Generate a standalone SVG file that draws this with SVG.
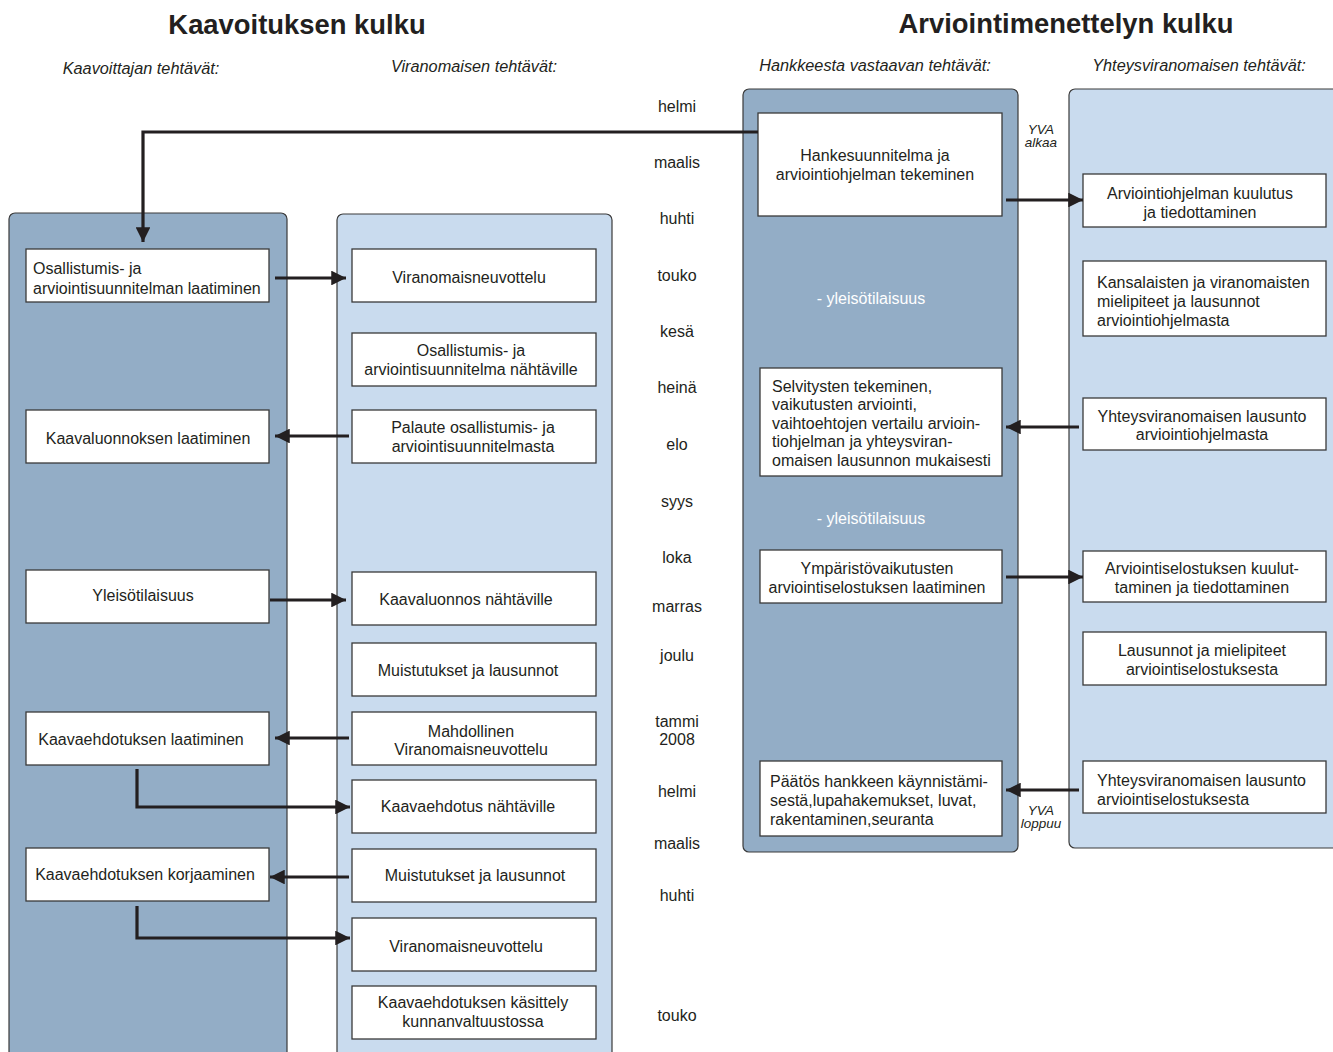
<svg xmlns="http://www.w3.org/2000/svg" width="1333" height="1052" viewBox="0 0 1333 1052">
<defs>
<marker id="ah" viewBox="0 0 10 10" refX="10" refY="5" markerWidth="5" markerHeight="4.6" markerUnits="strokeWidth" orient="auto">
<path d="M0,0 L10,5 L0,10 Z" fill="#231f20"/>
</marker>
<style>
text{font-family:"Liberation Sans",Arial,sans-serif;fill:#231f20}
.title{font-size:27.4px;font-weight:bold;text-anchor:middle}
.sub{font-size:16.3px;font-style:italic;text-anchor:middle}
.mon{font-size:16px;text-anchor:middle}
.t{font-size:16px}
.c{text-anchor:middle}
.w{fill:#ffffff;font-size:16px;text-anchor:middle}
.yva{font-size:13.5px;font-style:italic;text-anchor:middle}
.dark{fill:#93adc6;stroke:#3a3a3a;stroke-width:1.2}
.light{fill:#c9dbee;stroke:#3a3a3a;stroke-width:1.2}
.box{fill:#ffffff;stroke:#3a3a3a;stroke-width:1.3}
.con{fill:none;stroke:#231f20;stroke-width:3.2;marker-end:url(#ah)}
</style>
</defs>
<rect width="1333" height="1052" fill="#ffffff"/>

<g id="headers">
<text class="title" x="297" y="34">Kaavoituksen kulku</text>
<text class="title" x="1066" y="33">Arviointimenettelyn kulku</text>
<text class="sub" x="141" y="74">Kaavoittajan tehtävät:</text>
<text class="sub" x="474" y="72">Viranomaisen tehtävät:</text>
<text class="sub" x="875" y="71">Hankkeesta vastaavan tehtävät:</text>
<text class="sub" x="1199" y="71">Yhteysviranomaisen tehtävät:</text>
</g>

<g id="months">
<text class="mon" x="677" y="112">helmi</text>
<text class="mon" x="677" y="168">maalis</text>
<text class="mon" x="677" y="224">huhti</text>
<text class="mon" x="677" y="281">touko</text>
<text class="mon" x="677" y="337">kesä</text>
<text class="mon" x="677" y="393">heinä</text>
<text class="mon" x="677" y="450">elo</text>
<text class="mon" x="677" y="507">syys</text>
<text class="mon" x="677" y="563">loka</text>
<text class="mon" x="677" y="612">marras</text>
<text class="mon" x="677" y="661">joulu</text>
<text class="mon" x="677" y="727">tammi</text>
<text class="mon" x="677" y="745">2008</text>
<text class="mon" x="677" y="797">helmi</text>
<text class="mon" x="677" y="849">maalis</text>
<text class="mon" x="677" y="901">huhti</text>
<text class="mon" x="677" y="1021">touko</text>
</g>

<g id="lanes">
<rect id="lane-kaavoittaja" class="dark" x="9" y="213" width="278" height="860" rx="6"/>
<rect id="lane-viranomainen" class="light" x="337" y="214" width="275" height="860" rx="6"/>
<rect id="lane-hanke" class="dark" x="743" y="89" width="275" height="763" rx="6"/>
<rect id="lane-yhteys" class="light" x="1069" y="89" width="280" height="759" rx="6"/>
</g>

<g id="n-osallistumis"><rect class="box" x="26" y="249" width="243" height="53"/>
<text class="t" x="33" y="274">Osallistumis- ja</text><text class="t" x="33" y="294">arviointisuunnitelman laatiminen</text></g>
<g id="n-kaavaluonnoksen"><rect class="box" x="26" y="410" width="243" height="53"/>
<text class="t c" x="148" y="444">Kaavaluonnoksen laatiminen</text></g>
<g id="n-yleisotilaisuus"><rect class="box" x="26" y="570" width="243" height="53"/>
<text class="t c" x="143" y="601">Yleisötilaisuus</text></g>
<g id="n-kaavaehdotuksen-laatiminen"><rect class="box" x="26" y="712" width="243" height="53"/>
<text class="t c" x="141" y="745">Kaavaehdotuksen laatiminen</text></g>
<g id="n-korjaaminen"><rect class="box" x="26" y="848" width="243" height="53"/>
<text class="t c" x="145" y="880">Kaavaehdotuksen korjaaminen</text></g>

<g id="n-viranomaisneuvottelu1"><rect class="box" x="352" y="249" width="244" height="53"/>
<text class="t c" x="469" y="283">Viranomaisneuvottelu</text></g>
<g id="n-oas-nahtaville"><rect class="box" x="352" y="333" width="244" height="53"/>
<text class="t c" x="471" y="356">Osallistumis- ja</text><text class="t c" x="471" y="375">arviointisuunnitelma nähtäville</text></g>
<g id="n-palaute"><rect class="box" x="352" y="410" width="244" height="53"/>
<text class="t c" x="473" y="433">Palaute osallistumis- ja</text><text class="t c" x="473" y="452">arviointisuunnitelmasta</text></g>
<g id="n-luonnos-nahtaville"><rect class="box" x="352" y="572" width="244" height="53"/>
<text class="t c" x="466" y="605">Kaavaluonnos nähtäville</text></g>
<g id="n-muistutukset1"><rect class="box" x="352" y="643" width="244" height="53"/>
<text class="t c" x="468" y="676">Muistutukset ja lausunnot</text></g>
<g id="n-mahdollinen"><rect class="box" x="352" y="712" width="244" height="53"/>
<text class="t c" x="471" y="737">Mahdollinen</text><text class="t c" x="471" y="755">Viranomaisneuvottelu</text></g>
<g id="n-ehdotus-nahtaville"><rect class="box" x="352" y="780" width="244" height="53"/>
<text class="t c" x="468" y="812">Kaavaehdotus nähtäville</text></g>
<g id="n-muistutukset2"><rect class="box" x="352" y="849" width="244" height="53"/>
<text class="t c" x="475" y="881">Muistutukset ja lausunnot</text></g>
<g id="n-viranomaisneuvottelu2"><rect class="box" x="352" y="918" width="244" height="53"/>
<text class="t c" x="466" y="952">Viranomaisneuvottelu</text></g>
<g id="n-kasittely"><rect class="box" x="352" y="986" width="244" height="53"/>
<text class="t c" x="473" y="1008">Kaavaehdotuksen käsittely</text><text class="t c" x="473" y="1027">kunnanvaltuustossa</text></g>

<g id="n-hankesuunnitelma"><rect class="box" x="758" y="113" width="244" height="103"/>
<text class="t c" x="875" y="161">Hankesuunnitelma ja</text><text class="t c" x="875" y="180">arviointiohjelman tekeminen</text></g>
<g id="n-yleiso1"><text class="w" x="871" y="304">- yleisötilaisuus</text></g>
<g id="n-selvitysten"><rect class="box" x="760" y="368" width="242" height="108"/>
<text class="t" x="772" y="392">Selvitysten tekeminen,</text>
<text class="t" x="772" y="410">vaikutusten arviointi,</text>
<text class="t" x="772" y="429">vaihtoehtojen vertailu arvioin-</text>
<text class="t" x="772" y="447">tiohjelman ja yhteysviran-</text>
<text class="t" x="772" y="466">omaisen lausunnon mukaisesti</text></g>
<g id="n-yleiso2"><text class="w" x="871" y="524">- yleisötilaisuus</text></g>
<g id="n-ymparisto"><rect class="box" x="760" y="550" width="242" height="53"/>
<text class="t c" x="877" y="574">Ympäristövaikutusten</text><text class="t c" x="877" y="593">arviointiselostuksen laatiminen</text></g>
<g id="n-paatos"><rect class="box" x="760" y="761" width="242" height="75"/>
<text class="t" x="770" y="787">Päätös hankkeen käynnistämi-</text>
<text class="t" x="770" y="806">sestä,lupahakemukset, luvat,</text>
<text class="t" x="770" y="825">rakentaminen,seuranta</text></g>

<g id="n-kuulutus"><rect class="box" x="1083" y="174" width="243" height="53"/>
<text class="t c" x="1200" y="199">Arviointiohjelman kuulutus</text><text class="t c" x="1200" y="218">ja tiedottaminen</text></g>
<g id="n-kansalaisten"><rect class="box" x="1083" y="261" width="243" height="75"/>
<text class="t" x="1097" y="288">Kansalaisten ja viranomaisten</text>
<text class="t" x="1097" y="307">mielipiteet ja lausunnot</text>
<text class="t" x="1097" y="326">arviointiohjelmasta</text></g>
<g id="n-lausunto-ohjelma"><rect class="box" x="1083" y="398" width="243" height="52"/>
<text class="t c" x="1202" y="422">Yhteysviranomaisen lausunto</text><text class="t c" x="1202" y="440">arviointiohjelmasta</text></g>
<g id="n-selostus-kuulutus"><rect class="box" x="1083" y="551" width="243" height="51"/>
<text class="t c" x="1202" y="574">Arviointiselostuksen kuulut-</text><text class="t c" x="1202" y="593">taminen ja tiedottaminen</text></g>
<g id="n-lausunnot-mielipiteet"><rect class="box" x="1083" y="632" width="243" height="53"/>
<text class="t c" x="1202" y="656">Lausunnot ja mielipiteet</text><text class="t c" x="1202" y="675">arviointiselostuksesta</text></g>
<g id="n-lausunto-selostus"><rect class="box" x="1083" y="761" width="243" height="52"/>
<text class="t" x="1097" y="786">Yhteysviranomaisen lausunto</text><text class="t" x="1097" y="805">arviointiselostuksesta</text></g>

<g id="yva-labels">
<text class="yva" x="1041" y="134">YVA</text><text class="yva" x="1041" y="147">alkaa</text>
<text class="yva" x="1041" y="815">YVA</text><text class="yva" x="1041" y="828">loppuu</text>
</g>

<g id="connectors">
<path class="con" d="M758,132 H143 V242"/>
<path class="con" d="M275,278 H346"/>
<path class="con" d="M349,436 H275"/>
<path class="con" d="M270,600 H346"/>
<path class="con" d="M349,738 H275"/>
<path class="con" d="M137,769 V807 H350"/>
<path class="con" d="M349,877 H270"/>
<path class="con" d="M137,906 V938 H350"/>
<path class="con" d="M1006,200 H1083"/>
<path class="con" d="M1079,427 H1006"/>
<path class="con" d="M1006,577 H1083"/>
<path class="con" d="M1079,790 H1006"/>
</g>
</svg>
